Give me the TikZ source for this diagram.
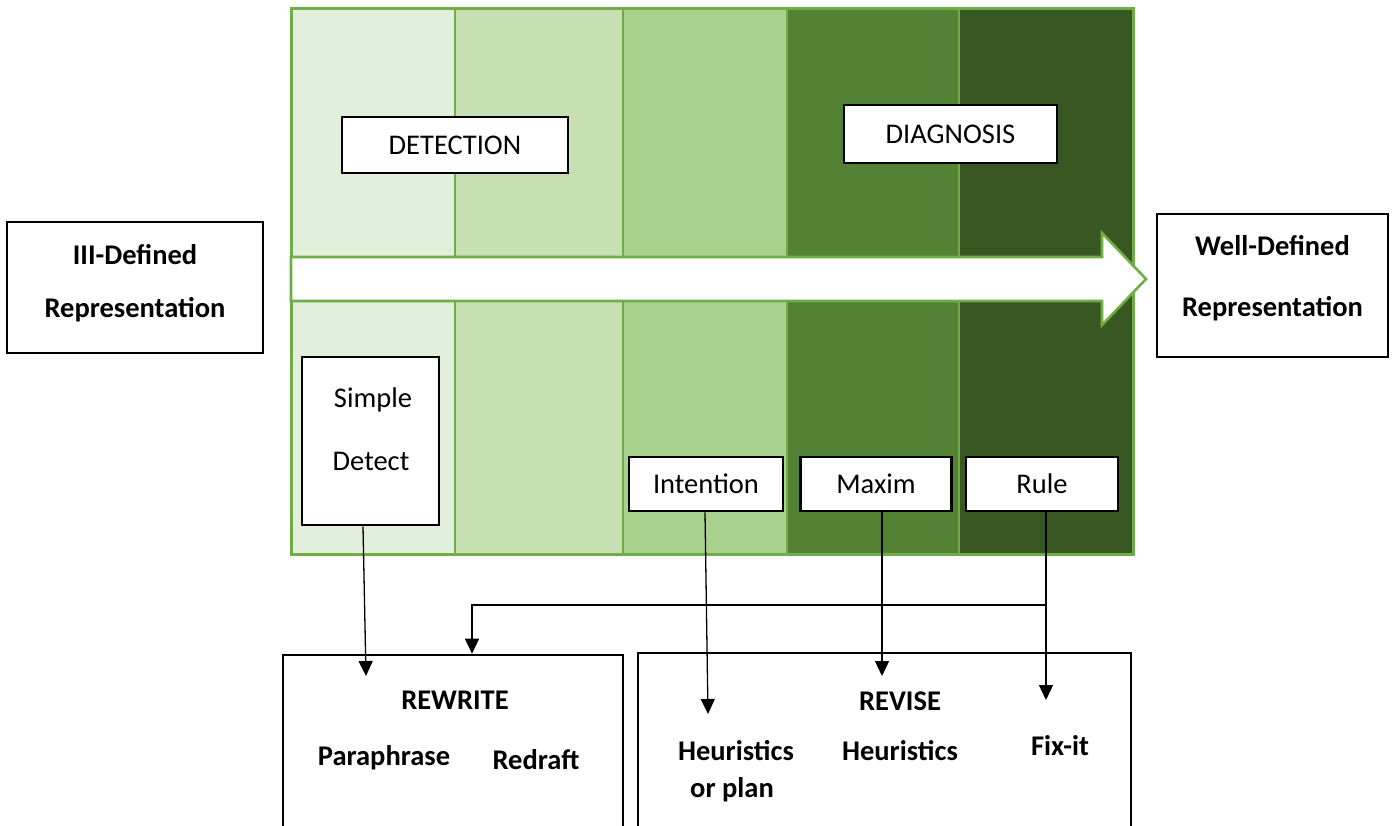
\documentclass[tikz,border=0pt]{standalone}
\usepackage{fontspec}
\setmainfont{Carlito}
\usetikzlibrary{arrows.meta}
\definecolor{cA}{HTML}{E2EFDA}
\definecolor{cB}{HTML}{C6E0B4}
\definecolor{cC}{HTML}{A9D18E}
\definecolor{cD}{HTML}{548235}
\definecolor{cE}{HTML}{385723}
\definecolor{gline}{HTML}{70AD47}
\begin{document}
\begin{tikzpicture}[x=1pt,y=-1pt,
  box/.style={draw=black,line width=2.6pt,fill=white,inner sep=0pt,minimum width=#1},
  txt/.style={inner sep=0pt,font=\fontsize{28.5}{34}\selectfont},
  btxt/.style={inner sep=0pt,font=\fontsize{28.5}{34}\selectfont\bfseries},
  conn/.style={line width=1.3pt,-{Triangle[length=15pt,width=14pt]}},
  plain/.style={line width=1.3pt}]
\clip (0,0) rectangle (1397,825);
\fill[white] (0,0) rectangle (1397,825);
% columns
\fill[cA] (291,8) rectangle (455,554);
\fill[cB] (455,8) rectangle (623,554);
\fill[cC] (623,8) rectangle (787,554);
\fill[cD] (787,8) rectangle (959,554);
\fill[cE] (959,8) rectangle (1133,554);
\foreach \xx in {455,623,787,959} \draw[gline,line width=1.6pt] (\xx,8) -- (\xx,554);
\draw[gline,line width=3pt] (291,8) rectangle (1133,554);
% band arrow
\draw[gline,line width=2.6pt,fill=white,line join=miter]
  (291,257) -- (1102,257) -- (1102,233) -- (1146,279) -- (1102,325) -- (1102,301) -- (291,301) -- cycle;
% side boxes
\node[box=256pt,minimum height=131pt] (ill) at (135,287.5) {};
\node[btxt] (illa) at (135,255) {III-Defined};
\node[btxt] (illb) at (135,310) {Representation};
\node[box=231pt,minimum height=143pt] (well) at (1272.5,285.5) {};
\node[btxt] (wella) at (1272.5,246) {Well-Defined};
\node[btxt] (wellb) at (1272.5,309) {Representation};
% headings
\node[box=226pt,minimum height=56pt,txt] (det) at (455,145) {DETECTION};
\node[box=213pt,minimum height=58pt,txt] (diag) at (950.5,134) {DIAGNOSIS};
% lower boxes in band
\node[box=137pt,minimum height=168pt] (simple) at (370.5,441) {};
\node[txt] (simplea) at (373,400) {Simple};
\node[txt] (simpleb) at (371,461) {Detect};
\node[box=154pt,minimum height=54pt,txt] (intent) at (706,484) {Intention};
\node[box=151pt,minimum height=54pt,txt] (maxim) at (876,484) {Maxim};
\node[box=152pt,minimum height=54pt,txt] (rule) at (1042,484) {Rule};
% bottom boxes
\node[box=340pt,minimum height=250pt] (rewrite) at (453,780) {};
\node[btxt] (rewt) at (455,700) {REWRITE};
\node[btxt] (para) at (384,758) {Paraphrase};
\node[btxt] (redr) at (536,760) {Redraft};
\node[box=493pt,minimum height=250pt] (revise) at (884.5,778) {};
\node[btxt] (revt) at (900,701) {REVISE};
\node[btxt] (heur1) at (736,751) {Heuristics};
\node[btxt] (orplan) at (732,790) {or plan};
\node[btxt] (heur2) at (900,751) {Heuristics};
\node[btxt] (fixit) at (1060,746) {Fix-it};
% connector ends
\coordinate (eS) at (366,676);
\coordinate (eI) at (708,714);
\coordinate (eM) at (882,676);
\coordinate (eR) at (1046,700);
\coordinate (jR) at (1046,605);
\coordinate (jL) at (472,605);
\draw[conn] (simple.south -| 363,0) -- (eS);
\draw[conn] (intent.south -| 705,0) -- (eI);
\draw[conn] (maxim.south -| 882,0) -- (eM);
\draw[conn] (rule.south -| 1046,0) -- (eR);
\draw[conn] (jR) -- (jL) -- (jL |- rewrite.north);
\end{tikzpicture}
\end{document}
